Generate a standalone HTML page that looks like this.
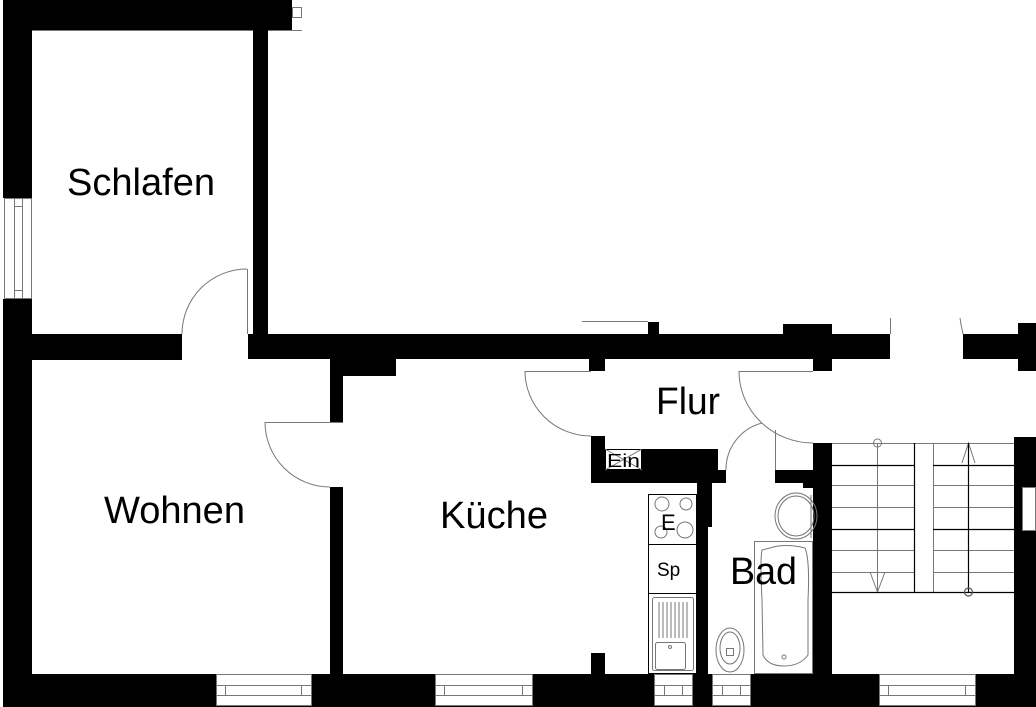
<!DOCTYPE html>
<html><head><meta charset="utf-8"><style>
html,body{margin:0;padding:0;background:#fff;}
svg{display:block;}
text{font-family:"Liberation Sans",Arial,sans-serif;fill:#000;}
</style></head><body>
<svg width="1036" height="707" viewBox="0 0 1036 707" xmlns="http://www.w3.org/2000/svg">
<rect width="1036" height="707" fill="#fff"/>
<g fill="#000">
<rect x="3" y="0" width="289" height="30"/>
<rect x="3" y="0" width="29" height="198"/>
<rect x="3" y="299" width="29" height="408"/>
<rect x="253" y="30" width="15" height="304"/>
<rect x="3" y="334" width="179" height="26"/>
<rect x="248" y="334" width="642" height="25"/>
<rect x="963" y="334" width="55" height="25"/>
<rect x="1018" y="323" width="18" height="48"/>
<rect x="648" y="322" width="11" height="13"/>
<rect x="783" y="324" width="49" height="11"/>
<rect x="589" y="358" width="16" height="13"/>
<rect x="813" y="358" width="19" height="13"/>
<rect x="343" y="358" width="53" height="18"/>
<rect x="330" y="358" width="13" height="64"/>
<rect x="330" y="487" width="13" height="190"/>
<rect x="591" y="436" width="14" height="47"/>
<rect x="591" y="449" width="127" height="34"/>
<rect x="718" y="470" width="8" height="13"/>
<rect x="697" y="483" width="15" height="44"/>
<rect x="697" y="483" width="11" height="194"/>
<rect x="591" y="653" width="14" height="22"/>
<rect x="775" y="470" width="38" height="13"/>
<rect x="803" y="470" width="10" height="18"/>
<rect x="813" y="443" width="19" height="264"/>
<rect x="1014" y="437" width="22" height="270"/>
<rect x="3" y="674" width="1033" height="33"/>
</g>
<g fill="#fff" stroke="#777" stroke-width="1">
<rect x="4.5" y="198.5" width="27" height="100"/>
<rect x="216.5" y="674.5" width="95" height="31"/>
<rect x="435.5" y="674.5" width="97" height="31"/>
<rect x="654.5" y="674.5" width="38" height="31"/>
<rect x="712.5" y="674.5" width="38" height="31"/>
<rect x="879.5" y="674.5" width="96" height="31"/>
<rect x="1022.5" y="487.5" width="13" height="43"/>
<rect x="292.5" y="7.5" width="9" height="10"/>
</g>
<g stroke="#777" stroke-width="1" fill="none">
<line x1="14.5" y1="198" x2="14.5" y2="299"/><line x1="22.5" y1="198" x2="22.5" y2="299"/>
<line x1="14" y1="206.5" x2="23" y2="206.5"/><line x1="14" y1="290.5" x2="23" y2="290.5"/>
<line x1="216" y1="685.5" x2="311" y2="685.5"/><line x1="216" y1="695.5" x2="311" y2="695.5"/>
<line x1="225.5" y1="685" x2="225.5" y2="696"/><line x1="301.5" y1="685" x2="301.5" y2="696"/>
<line x1="435" y1="685.5" x2="532" y2="685.5"/><line x1="435" y1="695.5" x2="532" y2="695.5"/>
<line x1="444.5" y1="685" x2="444.5" y2="696"/><line x1="522.5" y1="685" x2="522.5" y2="696"/>
<line x1="654" y1="685.5" x2="692" y2="685.5"/><line x1="654" y1="695.5" x2="692" y2="695.5"/>
<line x1="664.5" y1="685" x2="664.5" y2="696"/><line x1="682.5" y1="685" x2="682.5" y2="696"/>
<line x1="712" y1="685.5" x2="750" y2="685.5"/><line x1="712" y1="695.5" x2="750" y2="695.5"/>
<line x1="722.5" y1="685" x2="722.5" y2="696"/><line x1="740.5" y1="685" x2="740.5" y2="696"/>
<line x1="879" y1="685.5" x2="975" y2="685.5"/><line x1="879" y1="695.5" x2="975" y2="695.5"/>
<line x1="888.5" y1="685" x2="888.5" y2="696"/><line x1="965.5" y1="685" x2="965.5" y2="696"/>
<line x1="32" y1="30.5" x2="253" y2="30.5"/><line x1="268" y1="30.5" x2="302" y2="30.5"/>
<line x1="582" y1="321.5" x2="648" y2="321.5"/>
<line x1="890.5" y1="318" x2="890.5" y2="334"/>
<path d="M963 334 Q961 325 960 318"/>
<line x1="247.5" y1="269" x2="247.5" y2="334"/>
<path d="M247 269 A65 65 0 0 0 182 334"/>
<line x1="265" y1="422.5" x2="343" y2="422.5"/>
<path d="M265 422 A65 65 0 0 0 330 487"/>
<line x1="525" y1="371.5" x2="591" y2="371.5"/>
<path d="M525 371 A66 65 0 0 0 591 436"/>
<line x1="739" y1="371.5" x2="813" y2="371.5"/>
<path d="M739 371 A74 72 0 0 0 813 443"/>
<line x1="775.5" y1="430" x2="775.5" y2="470"/>
<path d="M726 470 A48 48 0 0 1 762 423"/>
<line x1="832" y1="443.5" x2="1014" y2="443.5"/>
<line x1="832" y1="485.5" x2="914" y2="485.5"/><line x1="933" y1="485.5" x2="1014" y2="485.5"/>
<line x1="832" y1="507.5" x2="914" y2="507.5"/><line x1="933" y1="507.5" x2="1014" y2="507.5"/>
<line x1="832" y1="550.5" x2="914" y2="550.5"/><line x1="933" y1="550.5" x2="1014" y2="550.5"/>
<line x1="832" y1="572.5" x2="914" y2="572.5"/><line x1="933" y1="572.5" x2="1014" y2="572.5"/>
<line x1="933.5" y1="443" x2="933.5" y2="592"/>
<line x1="877.5" y1="443" x2="877.5" y2="592"/>
<circle cx="877.5" cy="443" r="4"/>
<path d="M870 572 L877.5 592 L885 572"/>
<path d="M962 463 L968.5 443 L975 463"/>
<rect x="648.5" y="494.5" width="48" height="179" stroke="#000"/>
<line x1="648" y1="544.5" x2="697" y2="544.5" stroke="#000"/>
<line x1="648" y1="593.5" x2="697" y2="593.5" stroke="#000"/>
<circle cx="662" cy="504" r="7"/><circle cx="686" cy="504" r="6"/>
<circle cx="661" cy="532" r="6"/><circle cx="685" cy="530" r="8"/>
<rect x="652.5" y="597.5" width="41" height="73" rx="2"/>
<rect x="655.5" y="642.5" width="30" height="27" rx="2"/>
<path d="M659 602v36M663 602v36M667 602v36M671 602v36M675 602v36M679 602v36M683 602v36M687 602v36"/>
<circle cx="670" cy="647" r="1.5"/>
<rect x="754.5" y="541.5" width="58" height="132"/>
<path d="M770 548 Q785 543 805 548 Q810 560 808 600 L808 655 Q800 666 784 666 Q768 666 763 655 L762 600 Q760 560 762 550 Z"/>
<circle cx="784" cy="657" r="2"/>
<ellipse cx="796" cy="516" rx="21" ry="23"/>
<ellipse cx="796" cy="516" rx="18" ry="20"/>
<line x1="811" y1="495" x2="811" y2="538"/>
<ellipse cx="730" cy="650" rx="14" ry="22"/>
<ellipse cx="730" cy="648" rx="10" ry="16"/>
<rect x="726.5" y="648.5" width="7" height="7"/>
</g>
<g stroke="#000" stroke-width="1.2" fill="none">
<line x1="832" y1="465.5" x2="914" y2="465.5"/><line x1="933" y1="465.5" x2="1014" y2="465.5"/>
<line x1="832" y1="529.5" x2="914" y2="529.5"/><line x1="933" y1="529.5" x2="1014" y2="529.5"/>
<line x1="832" y1="592.5" x2="1014" y2="592.5"/>
<line x1="914.5" y1="443" x2="914.5" y2="592"/>
<line x1="968.5" y1="443" x2="968.5" y2="592"/>
<circle cx="968.5" cy="592" r="4" stroke="#555"/>
</g>
<rect x="605.5" y="449.5" width="36" height="20" fill="#fff" stroke="#000"/>
<path d="M605 449 L642 470 M642 449 L605 470" stroke="#777" fill="none"/>
<text x="607" y="467" font-size="18" textLength="33" lengthAdjust="spacingAndGlyphs">Ein</text>
<text x="661" y="530" font-size="22">E</text>
<text x="657" y="576" font-size="19">Sp</text>
<text x="67" y="195" font-size="38" textLength="148" lengthAdjust="spacingAndGlyphs">Schlafen</text>
<text x="104" y="523" font-size="38" textLength="141" lengthAdjust="spacingAndGlyphs">Wohnen</text>
<text x="440" y="528" font-size="38" textLength="108" lengthAdjust="spacingAndGlyphs">Küche</text>
<text x="656" y="414" font-size="38" textLength="64" lengthAdjust="spacingAndGlyphs">Flur</text>
<text x="730" y="584" font-size="38" textLength="67" lengthAdjust="spacingAndGlyphs">Bad</text>
</svg>
</body></html>
